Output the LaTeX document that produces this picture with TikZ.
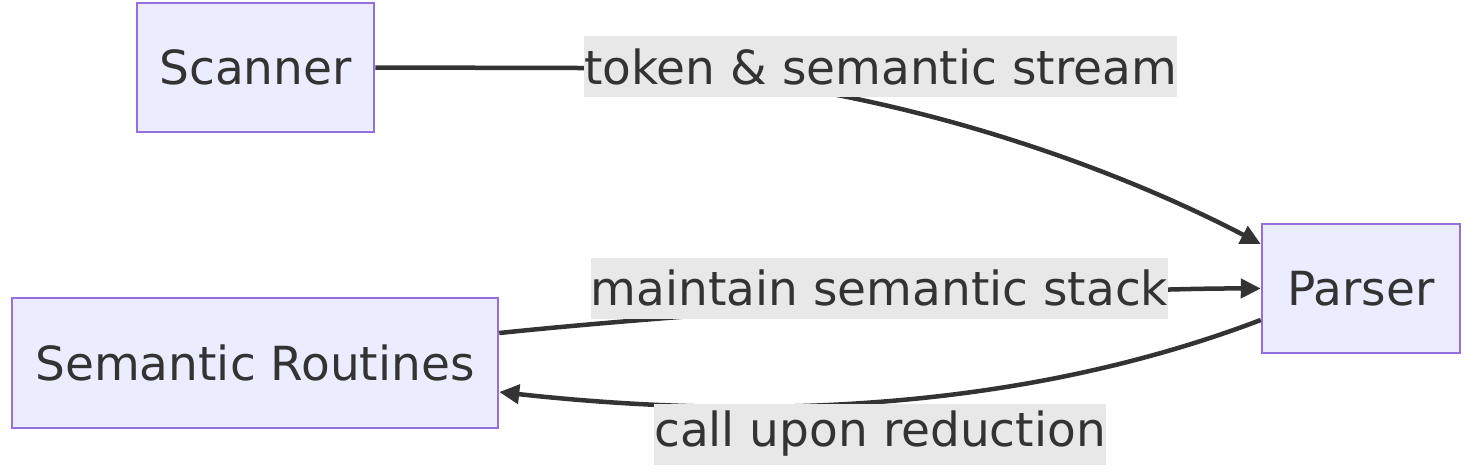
\documentclass[tikz,border=0pt]{standalone}
\usepackage{fontspec}
\setmainfont{DejaVu Sans}
\usetikzlibrary{arrows.meta, positioning}
\definecolor{nodefill}{HTML}{ECECFF}
\definecolor{nodeline}{HTML}{9370DB}
\definecolor{ink}{HTML}{333333}
\definecolor{lblfill}{HTML}{E8E8E8}
\begin{document}
\begin{tikzpicture}[x=1pt, y=-1pt, >={Triangle[length=20pt, width=19pt]},
    box/.style={draw=nodeline, fill=nodefill, line width=2.5pt, text=ink, inner sep=0pt, font=\fontsize{47}{55}\selectfont},
    lbl/.style={fill=lblfill, text=ink, inner sep=0pt, minimum height=61pt, font=\fontsize{47}{55}\selectfont},
    edge/.style={draw=ink, line width=4.5pt}]
        \useasboundingbox (0,0) rectangle (1471,475);
        \node[box, minimum width=237pt, minimum height=129pt] (scanner) at (255.5,67.5) {Scanner};
        \node[box, minimum width=486pt, minimum height=130pt] (routines) at (255,363) {Semantic Routines};
        \node[box, minimum width=198pt, minimum height=129pt] (parser) at (1361,288.5) {Parser};
        \coordinate (bend) at (580,68);
        \draw[edge, ->] (scanner.east) -- (bend) .. controls (850,70) and (1100,160) .. ([yshift=44.5pt]parser.west);
        \draw[edge, ->] ([yshift=30pt]routines.east) .. controls (720,310) and (1100,288) .. (parser.west);
        \draw[edge, ->] ([yshift=-31.5pt]parser.west) .. controls (1050,400) and (800,425) .. ([yshift=-29pt]routines.east);
        \node[lbl] (tok) at (880.5,66.5) {token \& semantic stream};
        \node[lbl] (stack) at (879.5,288) {maintain semantic stack};
        \node[lbl] (call) at (880,434) {call upon reduction};
    \end{tikzpicture}
\end{document}
